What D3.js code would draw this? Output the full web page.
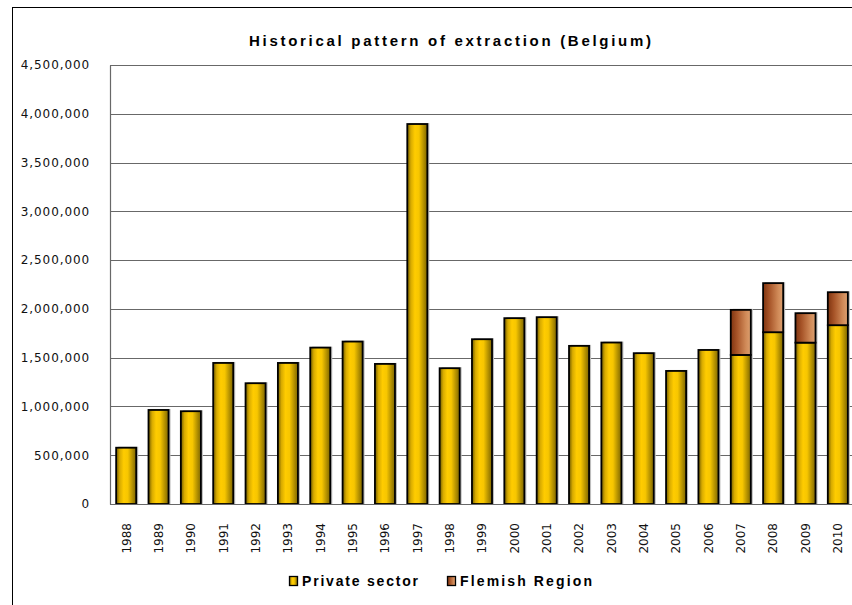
<!DOCTYPE html>
<html>
<head>
<meta charset="utf-8">
<script src="https://cdn.jsdelivr.net/npm/d3@7"></script>
<style>
    body { margin: 0; background: #ffffff; }
    svg { display: block; }
</style>
</head>
<body>
<div id="chart"></div>
<script>

// chart values
var years = ["1988", "1989", "1990", "1991", "1992", "1993", "1994", "1995", "1996", "1997", "1998", "1999",
             "2000", "2001", "2002", "2003", "2004", "2005", "2006", "2007", "2008", "2009", "2010"];

var privateSector = [577000, 964000, 951000, 1446000, 1238000, 1446000, 1603000, 1665000, 1436000, 3895000, 1392000, 1689000,
                     1905000, 1915000, 1621000, 1655000, 1546000, 1364000, 1579000, 1528000, 1761000, 1654000, 1833000];

var flemishRegion = [0, 0, 0, 0, 0, 0, 0, 0, 0, 0, 0, 0,
                     0, 0, 0, 0, 0, 0, 0, 462000, 503000, 302000, 338000];

var seriesNames = ["Private sector", "Flemish Region"];
var yTicks = [0, 500000, 1000000, 1500000, 2000000, 2500000, 3000000, 3500000, 4000000, 4500000];

var width = 852;
var height = 605;
var margin = {top: 65, right: -2, bottom: 101, left: 110};

var svg = d3.select("#chart").append("svg")
    .attr("width", width)
    .attr("height", height);

// gradients used by the bars and the legend keys
var defs = svg.append("defs");

var yellowGrad = defs.append("linearGradient").attr("id", "gradYellow")
    .attr("x1", "0%").attr("x2", "100%").attr("y1", "0%").attr("y2", "0%");
[["0%", "#6e5a00"], ["18%", "#d8ab00"], ["38%", "#ffcc00"], ["58%", "#f7c600"], ["100%", "#7d6500"]]
    .forEach(function (s) { yellowGrad.append("stop").attr("offset", s[0]).attr("stop-color", s[1]); });

var brownGrad = defs.append("linearGradient").attr("id", "gradBrown")
    .attr("x1", "0%").attr("x2", "100%").attr("y1", "0%").attr("y2", "0%");
[["0%", "#7e3410"], ["30%", "#a65327"], ["75%", "#d08a58"], ["100%", "#dca070"]]
    .forEach(function (s) { brownGrad.append("stop").attr("offset", s[0]).attr("stop-color", s[1]); });

var fills = ["url(#gradYellow)", "url(#gradBrown)"];

// outer chart border (the picture is cropped on the right and bottom)
svg.append("rect")
    .attr("x", 12.5)
    .attr("y", 7.5)
    .attr("width", 900)
    .attr("height", 700)
    .attr("fill", "none")
    .attr("stroke", "#000")
    .attr("stroke-width", 1);

var plotW = width - margin.left - margin.right;
var plotH = height - margin.top - margin.bottom;

var g = svg.append("g")
    .attr("transform", "translate(" + margin.left + "," + margin.top + ")");

var x = d3.scaleBand()
    .domain(years)
    .range([0, plotW])
    .paddingInner(0.38)
    .paddingOuter(0.19);

var y = d3.scaleLinear()
    .domain([0, 4500000])
    .range([plotH, 0]);

//gridlines
g.selectAll(".grid")
    .data(yTicks)
    .enter()
    .append("line")
    .attr("class", "grid")
    .attr("x1", 0)
    .attr("x2", plotW)
    .attr("y1", function (d) { return Math.round(y(d)) + 0.5; })
    .attr("y2", function (d) { return Math.round(y(d)) + 0.5; })
    .attr("stroke", "#686868")
    .attr("stroke-width", 1.2);

// y axis
var yAxis = d3.axisLeft(y)
    .tickValues(yTicks)
    .tickSize(0)
    .tickPadding(20)
    .tickFormat(d3.format(","));

var yAxisG = g.append("g").call(yAxis);
yAxisG.select(".domain").attr("stroke", "#686868").attr("stroke-width", 1.2);
yAxisG.selectAll("text")
    .attr("font-family", "DejaVu Sans, sans-serif")
    .attr("font-size", 12)
    .attr("letter-spacing", 0.9)
    .attr("fill", "#111");

// x axis labels, rotated
g.selectAll(".xlabel")
    .data(years)
    .enter()
    .append("text")
    .attr("class", "xlabel")
    .attr("transform", function (d) {
        return "translate(" + (x(d) + x.bandwidth() / 2) + "," + (plotH + 19) + ") rotate(-90)";
    })
    .attr("text-anchor", "end")
    .attr("dy", "0.36em")
    .attr("font-family", "DejaVu Sans, sans-serif")
    .attr("font-size", 12)
    .attr("fill", "#111")
    .text(function (d) { return d; });

// stacked bars
var rows = years.map(function (yr, i) {
    return {year: yr, p: privateSector[i], f: flemishRegion[i]};
});
var stack = d3.stack().keys(["p", "f"]);
var layers = stack(rows);

// soft shadow behind each bar
g.selectAll(".shadow")
    .data(rows)
    .enter()
    .append("rect")
    .attr("class", "shadow")
    .attr("x", function (d) { return x(d.year) + 2; })
    .attr("y", function (d) { return y(d.p + d.f) - 1; })
    .attr("width", x.bandwidth())
    .attr("height", function (d) { return plotH - y(d.p + d.f) + 1; })
    .attr("fill", "#bdbdbd");

var layerG = g.selectAll(".layer")
    .data(layers)
    .enter()
    .append("g")
    .attr("class", "layer")
    .attr("fill", function (d, i) { return fills[i]; });

layerG.selectAll("rect")
    .data(function (d) { return d.filter(function (e) { return e[1] > e[0]; }); })
    .enter()
    .append("rect")
    .attr("x", function (d) { return x(d.data.year); })
    .attr("y", function (d) { return y(d[1]); })
    .attr("width", x.bandwidth())
    .attr("height", function (d) { return y(d[0]) - y(d[1]); })
    .attr("stroke", "#000")
    .attr("stroke-width", 1.8);

// bottom axis line
g.append("line")
    .attr("x1", 0)
    .attr("x2", plotW)
    .attr("y1", plotH + 0.5)
    .attr("y2", plotH + 0.5)
    .attr("stroke", "#686868")
    .attr("stroke-width", 1.2);

// title
svg.append("text")
    .attr("x", 450)
    .attr("y", 46)
    .attr("text-anchor", "middle")
    .attr("font-family", "Liberation Sans, Arial, sans-serif")
    .attr("font-size", 15)
    .attr("font-weight", "bold")
    .attr("textLength", 402)
    .attr("lengthAdjust", "spacing")
    .attr("fill", "#000")
    .text("Historical pattern of extraction (Belgium)");

// legend
var legendX = [289, 447];
var legendLen = [116, 132];
var legend = svg.selectAll(".legend")
    .data(seriesNames)
    .enter()
    .append("g")
    .attr("class", "legend")
    .attr("transform", function (d, i) { return "translate(" + legendX[i] + ",576)"; });

legend.append("rect")
    .attr("x", 0.5)
    .attr("y", 0.5)
    .attr("width", 8)
    .attr("height", 9)
    .attr("fill", function (d, i) { return fills[i]; })
    .attr("stroke", "#000")
    .attr("stroke-width", 1.3);

legend.append("text")
    .attr("x", 13)
    .attr("y", 10)
    .attr("font-family", "Liberation Sans, Arial, sans-serif")
    .attr("font-size", 14)
    .attr("font-weight", "bold")
    .attr("textLength", function (d, i) { return legendLen[i]; })
    .attr("lengthAdjust", "spacing")
    .attr("fill", "#000")
    .text(function (d) { return d; });

</script>
</body>
</html>
